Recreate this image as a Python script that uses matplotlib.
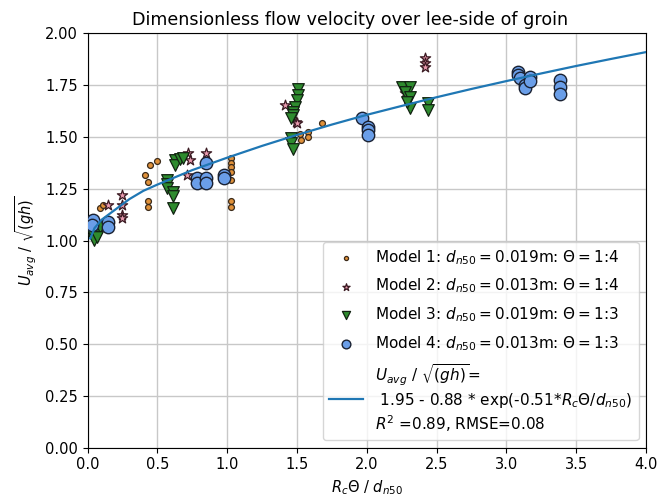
import numpy as np
import matplotlib
matplotlib.use("Agg")
import matplotlib.pyplot as plt

# values
m1_x = [0.09, 0.11, 0.41, 0.435, 0.447, 0.495, 0.435, 0.435,
        1.027, 1.027, 1.027, 1.027, 1.03, 1.03, 1.03,
        1.52, 1.53, 1.58, 1.58, 1.68]
m1_y = [1.155, 1.17, 1.316, 1.284, 1.364, 1.385, 1.192, 1.163,
        1.397, 1.373, 1.353, 1.332, 1.292, 1.192, 1.163,
        1.514, 1.485, 1.525, 1.501, 1.569]

m2_x = [0.149, 0.245, 0.245, 0.245, 0.245, 0.72, 0.734, 0.71, 0.848,
        1.414, 1.49, 1.497, 2.27, 2.42, 2.42, 2.42]
m2_y = [1.171, 1.22, 1.171, 1.123, 1.107, 1.421, 1.389, 1.316, 1.424,
        1.654, 1.57, 1.566, 1.71, 1.879, 1.855, 1.839]

m3_x = [0.04, 0.05, 0.08, 0.09, 0.065,
        0.571, 0.571, 0.571, 0.61, 0.61, 0.61, 0.626, 0.626, 0.662, 0.686,
        1.51, 1.51, 1.50, 1.485, 1.47, 1.47, 1.46, 1.46, 1.46, 1.47,
        2.25, 2.31, 2.27, 2.31, 2.31, 2.44, 2.44, 2.285]
m3_y = [1.027, 1.002, 1.05, 1.067, 1.018,
        1.292, 1.273, 1.252, 1.236, 1.215, 1.155, 1.389, 1.364, 1.392, 1.397,
        1.73, 1.702, 1.678, 1.646, 1.622, 1.606, 1.59, 1.493, 1.469, 1.44,
        1.742, 1.742, 1.718, 1.694, 1.638, 1.662, 1.63, 1.67]

m4_x = [0.037, 0.03, 0.149, 0.149,
        0.786, 0.786, 0.848, 0.848, 0.848, 0.98, 0.98,
        1.963, 2.01, 2.01, 2.01,
        3.084, 3.084, 3.096, 3.13, 3.13, 3.17, 3.17,
        3.382, 3.382, 3.382]
m4_y = [1.099, 1.075, 1.091, 1.067,
        1.30, 1.276, 1.30, 1.276, 1.373, 1.316, 1.30,
        1.59, 1.549, 1.533, 1.509,
        1.815, 1.799, 1.783, 1.75, 1.735, 1.79, 1.771,
        1.775, 1.742, 1.707]

# fitted curve as drawn
fit_x = [0.02, 0.05, 0.1, 0.2, 0.3, 0.4, 0.5, 0.75, 1.0, 1.25, 1.5, 1.75,
         2.0, 2.25, 2.5, 2.75, 3.0, 3.25, 3.5, 3.75, 4.0]
fit_y = [1.01, 1.06, 1.10, 1.15, 1.20, 1.24, 1.27, 1.34, 1.40, 1.457, 1.51, 1.56,
         1.607, 1.65, 1.692, 1.732, 1.77, 1.807, 1.843, 1.877, 1.91]

plt.rcParams['font.size'] = 10.5

fig = plt.figure(figsize=(6.58, 4.99), dpi=100)
ax = fig.add_axes([0.133, 0.103, 0.849, 0.830])

ax.scatter(m1_x, m1_y, s=18, marker='o', c='#e0913a', edgecolors='#3a2a1a', linewidths=0.9,
           label=r'Model 1: $d_{n50}=0.019$m: $\Theta=1$:4', zorder=3)
ax.scatter(m2_x, m2_y, s=60, marker='*', c='#e89aae', edgecolors='#3a1a22', linewidths=0.9,
           label=r'Model 2: $d_{n50}=0.013$m: $\Theta=1$:4', zorder=3)
ax.scatter(m3_x, m3_y, s=70, marker='v', c='#2e8b2e', edgecolors='#112211', linewidths=0.9,
           label=r'Model 3: $d_{n50}=0.019$m: $\Theta=1$:3', zorder=3)
ax.scatter(m4_x, m4_y, s=80, marker='o', c='#6a9ee8', edgecolors='#1a2233', linewidths=1.0,
           label=r'Model 4: $d_{n50}=0.013$m: $\Theta=1$:3', zorder=3)
ax.plot(fit_x, fit_y, color='#1f77b4', lw=1.6, zorder=4,
        label='$U_{avg}$ / $\\sqrt{(gh)}$=\n 1.95 - 0.88 * exp(-0.51*$R_c\\Theta/d_{n50}$)\n$R^2$ =0.89, RMSE=0.08')

ax.set_xlim(0, 4)
ax.set_ylim(0, 2)
ax.set_xticks(np.arange(0, 4.01, 0.5))
ax.set_yticks(np.arange(0, 2.01, 0.25))
ax.grid(True, color='#c8c8c8', lw=1.0)
ax.set_axisbelow(True)

ax.set_title('Dimensionless flow velocity over lee-side of groin', x=0.47, fontsize=12.6)
ax.set_xlabel(r'$R_c\Theta$ / $d_{n50}$')
ax.set_ylabel(r'$U_{avg}$ / $\sqrt{(gh)}$')
ax.legend(loc='lower right', fontsize=11, markerscale=0.7, labelspacing=0.65,
          handlelength=2.2, handletextpad=0.8)

fig.savefig('out.png', dpi=100)
